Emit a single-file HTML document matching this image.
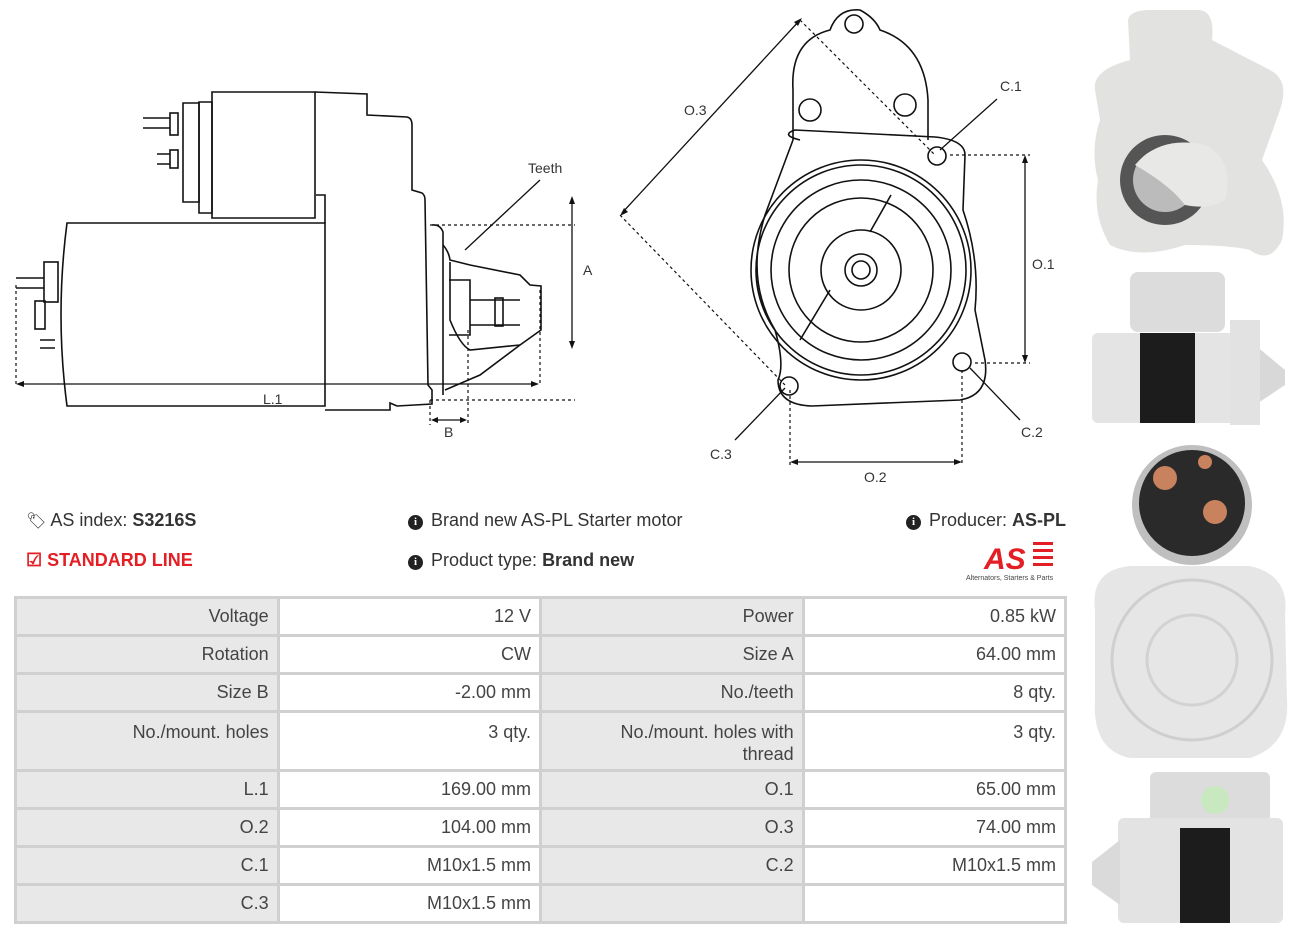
<!DOCTYPE html>
<html><head><meta charset="utf-8"><style>
body{margin:0;width:1298px;height:936px;background:#fff;font-family:"Liberation Sans",sans-serif;color:#333;position:relative;overflow:hidden}
.t{position:absolute;font-size:18px;white-space:nowrap}
table{position:absolute;left:14px;top:596px;border-collapse:collapse;width:1053px;font-size:18px;color:#444}
td{border:3px solid #d0d0d0;text-align:right;padding:0 8px;height:35px;vertical-align:middle}
td.l{background:#e8e8e8;width:246px}
td.v{background:#fff;width:246px}
tr.tall td{height:48px;vertical-align:top;padding-top:8px;line-height:22px}
.ic{display:inline-block;width:15px;height:15px;border-radius:50%;background:#222;color:#fff;font-size:11px;text-align:center;line-height:15px;font-weight:bold;vertical-align:1px;margin-right:8px;font-family:"Liberation Serif",serif}
</style></head><body>
<svg width="1298" height="936" style="position:absolute;left:0;top:0" xmlns="http://www.w3.org/2000/svg">
<g fill="none" stroke="#111" stroke-width="1.6">
<path d="M67 223 L325 223 L325 406 L67 406 Q55 315 67 223Z"/>
<path d="M212 92 L212 218 L315 218 L315 92Z"/>
<path d="M199 102 L199 213 L212 213 L212 102Z"/>
<path d="M183 103 L183 202 L199 202 L199 103Z"/>
<path d="M315 92 L367 94 L367 115 L407 117 Q412 118 412 125 L412 190 L422 193 Q425 195 425 200 L428 385 L432 390 L432 404 L397 406 L390 403 L390 410 L325 410"/>
<path d="M316 195 L325 195 L325 223"/>
<path d="M432 225 Q440 224 443 232 L443 395"/>
<path d="M443 245 Q449 252 450 260 L470 265 L520 275 L530 285 L541 286 L541 330 L520 345 L480 375 L445 390"/>
<path d="M450 262 L450 320 Q460 345 470 350 L520 345"/>
<path d="M449 280 L470 280 L470 335 L449 335"/>
<path d="M470 300 L520 300 M470 325 L520 325"/>
<rect x="495" y="298" width="8" height="28"/>
<rect x="44" y="262" width="14" height="40"/>
<rect x="35" y="301" width="10" height="28"/>
<path d="M16 278 L44 278 M16 288 L44 288 M40 340 L55 340 M40 348 L55 348 M143 118 L170 118 M143 128 L170 128 M157 154 L170 154 M157 164 L170 164"/>
<rect x="170" y="113" width="8" height="22"/><rect x="170" y="150" width="8" height="18"/>
</g>
<g fill="none" stroke="#111" stroke-width="1.2" stroke-dasharray="3,3">
<path d="M16 285 L16 385 M430 225 L575 225 M430 400 L575 400 M540 290 L540 385 M430 400 L430 425 M468 330 L468 425 M620 215 L785 385 M800 20 L935 155 M950 155 L1030 155 M975 363 L1030 363 M790 390 L790 465 M962 370 L962 465"/>
</g>
<g fill="none" stroke="#111" stroke-width="1.3">
<path d="M20 384 L535 384 M435 420 L464 420 M572 200 L572 345 M622 213 L800 20 M1025 158 L1025 360 M793 462 L960 462 M940 150 L997 99 M970 368 L1020 420 M785 388 L735 440 M540 180 L465 250"/>
</g>
<g fill="#111">
<path d="M16 384 l8 -3 v6z M539 384 l-8 -3 v6z M431 420 l7 -3 v6z M467 420 l-7 -3 v6z M572 196 l-3 8 h6z M572 349 l-3 -8 h6z M1025 155 l-3 8 h6z M1025 363 l-3 -8 h6z M790 462 l8 -3 v6z M962 462 l-8 -3 v6z M620 216 l4 -8 l4 4z M802 18 l-8 4 l4 4z"/>
</g>
<g fill="none" stroke="#111" stroke-width="1.6">
<path d="M793 140 L793 90 Q790 40 830 30 Q838 8 860 10 Q875 18 880 30 Q925 45 928 100 L928 140"/>
<path d="M800 140 Q780 135 795 130 L935 137 Q965 140 965 155 L963 210 Q980 260 975 310 L985 360 Q990 395 960 400 L812 406 Q778 405 778 380 Q785 365 775 330 Q745 280 765 215 L793 140"/>
<circle cx="861" cy="270" r="110"/><circle cx="861" cy="270" r="105"/>
<circle cx="861" cy="270" r="90"/><circle cx="861" cy="270" r="72"/>
<circle cx="861" cy="270" r="40"/><circle cx="861" cy="270" r="16"/><circle cx="861" cy="270" r="9"/>
<path d="M891 195 L870 232 M830 290 L800 340"/>
<circle cx="854" cy="24" r="9"/><circle cx="810" cy="110" r="11"/><circle cx="905" cy="105" r="11"/>
<circle cx="937" cy="156" r="9"/><circle cx="962" cy="362" r="9"/><circle cx="789" cy="386" r="9"/>
</g>
<g font-family="Liberation Sans,sans-serif" font-size="14" fill="#333">
<text x="528" y="173">Teeth</text><text x="583" y="275">A</text><text x="263" y="404">L.1</text><text x="444" y="437">B</text>
<text x="684" y="115">O.3</text><text x="1000" y="91">C.1</text><text x="1032" y="269">O.1</text><text x="1021" y="437">C.2</text><text x="710" y="459">C.3</text><text x="864" y="482">O.2</text>
</g>
<g>
<path d="M1128 20 Q1130 10 1150 10 L1200 10 Q1215 12 1212 40 L1270 70 Q1290 80 1280 110 L1262 160 Q1290 200 1282 240 Q1270 265 1250 250 Q1230 245 1185 245 Q1140 260 1110 245 Q1092 215 1098 180 Q1090 150 1100 120 L1095 90 Q1092 70 1130 60Z" fill="#e2e3e1"/>
<ellipse cx="1165" cy="180" rx="45" ry="45" fill="#555"/><ellipse cx="1165" cy="180" rx="32" ry="32" fill="#bbb"/>
<path d="M1135 165 Q1160 135 1205 145 Q1235 160 1225 200 Q1210 210 1185 205 Q1170 185 1135 165Z" fill="#e8e8e6"/>
<rect x="1130" y="272" width="95" height="60" rx="8" fill="#dcdcdc"/>
<rect x="1092" y="333" width="165" height="90" rx="6" fill="#e4e4e4"/>
<rect x="1140" y="333" width="55" height="90" fill="#1c1c1c"/>
<path d="M1255 345 L1285 370 L1285 385 L1255 405Z" fill="#d8d8d8"/>
<rect x="1230" y="320" width="30" height="105" fill="#e2e2e2"/>
<path d="M1095 610 Q1090 570 1130 566 L1250 566 Q1290 575 1285 615 L1287 700 Q1290 745 1250 758 L1130 758 Q1092 750 1095 700Z" fill="#e6e6e6"/>
<circle cx="1192" cy="660" r="80" fill="none" stroke="#cfcfcf" stroke-width="3"/>
<circle cx="1192" cy="660" r="45" fill="none" stroke="#d2d2d2" stroke-width="3"/>
<circle cx="1192" cy="505" r="60" fill="#bfbfbf"/><circle cx="1192" cy="503" r="53" fill="#2a2a2a"/>
<circle cx="1165" cy="478" r="12" fill="#c9825e"/><circle cx="1215" cy="512" r="12" fill="#c9825e"/><circle cx="1205" cy="462" r="7" fill="#c9825e"/>
<rect x="1150" y="772" width="120" height="55" rx="6" fill="#dcdcdc"/>
<rect x="1118" y="818" width="165" height="105" rx="6" fill="#e3e3e3"/>
<rect x="1180" y="828" width="50" height="95" fill="#1c1c1c"/>
<path d="M1120 840 L1092 862 L1092 885 L1120 905Z" fill="#dadada"/>
<circle cx="1215" cy="800" r="14" fill="#c8e8c0"/>
</g>
<g>
<text x="984" y="569" font-family="Liberation Sans,sans-serif" font-size="30" font-weight="bold" font-style="italic" fill="#e31e24">AS</text>
<path d="M1033 542 h20 v3 h-20z M1033 549 h20 v3 h-20z M1033 556 h20 v3 h-20z M1033 563 h20 v3 h-20z" fill="#e31e24"/>
<text x="966" y="580" font-family="Liberation Sans,sans-serif" font-size="7" fill="#444">Alternators, Starters &amp; Parts</text>
</g>
</svg>
<div class="t" style="left:26px;top:510px"><span style="font-size:16px">&#x1F3F7;&#xFE0E;</span> AS index: <b>S3216S</b></div>
<div class="t" style="left:26px;top:550px;color:#e31e24;font-weight:bold">&#9745; STANDARD LINE</div>
<div class="t" style="left:408px;top:510px"><span class="ic">i</span>Brand new AS-PL Starter motor</div>
<div class="t" style="left:408px;top:550px"><span class="ic">i</span>Product type: <b>Brand new</b></div>
<div class="t" style="left:906px;top:510px"><span class="ic">i</span>Producer: <b>AS-PL</b></div>
<table>
<tr><td class="l">Voltage</td><td class="v">12 V</td><td class="l">Power</td><td class="v">0.85 kW</td></tr>
<tr><td class="l">Rotation</td><td class="v">CW</td><td class="l">Size A</td><td class="v">64.00 mm</td></tr>
<tr><td class="l">Size B</td><td class="v">-2.00 mm</td><td class="l">No./teeth</td><td class="v">8 qty.</td></tr>
<tr class="tall"><td class="l">No./mount. holes</td><td class="v">3 qty.</td><td class="l">No./mount. holes with<br>thread</td><td class="v">3 qty.</td></tr>
<tr><td class="l">L.1</td><td class="v">169.00 mm</td><td class="l">O.1</td><td class="v">65.00 mm</td></tr>
<tr><td class="l">O.2</td><td class="v">104.00 mm</td><td class="l">O.3</td><td class="v">74.00 mm</td></tr>
<tr><td class="l">C.1</td><td class="v">M10x1.5 mm</td><td class="l">C.2</td><td class="v">M10x1.5 mm</td></tr>
<tr><td class="l">C.3</td><td class="v">M10x1.5 mm</td><td class="l"></td><td class="v"></td></tr>
</table>
</body></html>
